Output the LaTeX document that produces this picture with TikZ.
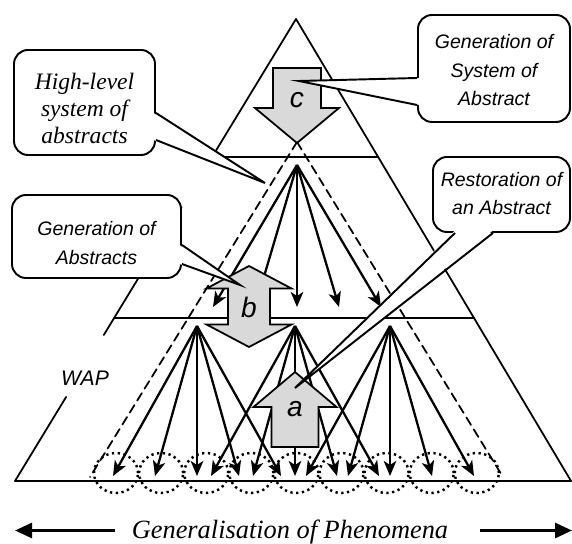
\documentclass[tikz,border=0pt]{standalone}
\usepackage{fontspec}
\setmainfont{Liberation Serif}
\setsansfont{Liberation Sans}
\usepackage{tkz-euclide}
\usetikzlibrary{arrows.meta,calc}
\definecolor{ArrowClr}{rgb}{0.85,0.85,0.85}
\tikzset{
  fan/.style={line width=1.3pt,-{Stealth[length=0.30cm,width=0.25cm,inset=0.08cm]}},
  bigarrow/.style={fill=ArrowClr,draw=black,line width=1pt},
  letter/.style={font=\sffamily\itshape\fontsize{16}{19}\selectfont,inner sep=0pt},
  bubble/.style={draw,fill=white,line width=1.1pt,rounded corners=0.28cm,inner sep=0pt},
  sanstext/.style={font=\sffamily\itshape\fontsize{11.1}{16.2}\selectfont,align=center},
  dotcirc/.style={line width=1.4pt,dash pattern=on 1.3pt off 2pt},
  genarrow/.style={line width=1.7pt,-{Triangle[length=0.34cm,width=0.30cm]}}
}

\begin{document}
\begin{tikzpicture}
\useasboundingbox (0,0) rectangle (11.44,10.86);
\tkzSetUpLine[line width=1pt,color=black]

\tkzDefPoints{5.92/10.48/T,0.30/1.24/L,11.42/1.24/R}
\tkzDefPoints{5.94/8.02/D,1.80/1.32/DL,10.06/1.32/DR}
\coordinate (U1) at ($(T)!.299!(L)$);
\coordinate (U2) at ($(T)!.299!(R)$);
\coordinate (L2) at ($(T)!.407!(L)$);
\coordinate (P1) at ($(T)!.647!(L)$);
\coordinate (P2) at ($(T)!.647!(R)$);
\coordinate (L3) at ($(T)!.684!(L)$);
\coordinate (L4) at ($(T)!.818!(L)$);

\tkzDrawSegments(T,U1 L2,L3 L4,L T,R L,R U1,U2 P1,P2)
\tkzDrawSegments[line width=1pt,dash pattern=on 5pt off 3pt](D,DL D,DR)

\tkzDefPoints{5.94/7.56/S0,3.94/4.34/S1,5.90/4.34/S2,7.80/4.34/S3}
\foreach \k in {1,...,5}{
  \path (S0) ++({0.84*(\k-3)},-2.84) coordinate (E0\k);
  \draw[fan] (S0) -- (E0\k);
}
\foreach \s in {1,2,3}
  \foreach \k in {1,...,5}{
    \path (S\s) ++({0.84*(\k-3)},-3.00) coordinate (E\s\k);
    \draw[fan] (S\s) -- (E\s\k);
  }

\foreach \k in {0,...,8}
  \draw[dotcirc] ({2.32+0.902*\k},1.40) ellipse (0.44 and 0.40);

\filldraw[bigarrow,shift={(5.94,8.00)}] (0,0) -- (0.84,0.70) -- (0.48,0.70) -- (0.48,1.50)
  -- (-0.48,1.50) -- (-0.48,0.70) -- (-0.84,0.70) -- cycle;
\filldraw[bigarrow,shift={(4.98,4.73)}] (0,0.81) -- (0.85,0.36) -- (0.42,0.36) -- (0.42,-0.36)
  -- (0.85,-0.36) -- (0,-0.81) -- (-0.85,-0.36) -- (-0.42,-0.36) -- (-0.42,0.36) -- (-0.85,0.36) -- cycle;
\filldraw[bigarrow,shift={(5.90,3.42)}] (0,0) -- (0.83,-0.70) -- (0.47,-0.70) -- (0.47,-1.50)
  -- (-0.47,-1.50) -- (-0.47,-0.70) -- (-0.83,-0.70) -- cycle;
\node[letter] (c) at (5.94,8.86) {c};
\node[letter] (b) at (4.98,4.72) {b};
\node[letter] (a) at (5.90,2.68) {a};

\node[bubble,minimum width=2.82cm,minimum height=2.10cm] (hl) at (1.69,8.81) {};
\node[font=\rmfamily\itshape\fontsize{13.4}{15.6}\selectfont,align=center] (hlt) at ($(hl)+(0,-0.12)$) {High-level\\system of\\abstracts};
\coordinate (hlT) at (5.30,7.20);
\fill[white] ($(hl.east)+(-0.05,-0.21)$) -- (hlT) -- ($(hl.east)+(-0.05,-0.75)$) -- cycle;
\draw[line width=1.1pt] ($(hl.east)+(0,-0.21)$) -- (hlT) -- ($(hl.east)+(0,-0.75)$);

\node[bubble,minimum width=3.38cm,minimum height=1.66cm] (ga) at (1.93,6.13) {};
\node[sanstext] (gat) at ($(ga)+(0,-0.13)$) {Generation of\\Abstracts};
\coordinate (gaT) at (4.80,5.16);
\fill[white] ($(ga.east)+(-0.05,-0.17)$) -- (gaT) -- ($(ga.east)+(-0.05,-0.55)$) -- cycle;
\draw[line width=1.1pt] ($(ga.east)+(0,-0.17)$) -- (gaT) -- ($(ga.east)+(0,-0.55)$);

\node[bubble,minimum width=3.04cm,minimum height=2.14cm] (gs) at (9.88,9.49) {};
\node[sanstext] (gst) at ($(gs)+(0,-0.04)$) {Generation of\\System of\\Abstract};
\coordinate (gsT) at (5.98,9.24);
\fill[white] ($(gs.west)+(0.05,-0.19)$) -- (gsT) -- ($(gs.west)+(0.05,-0.73)$) -- cycle;
\draw[line width=1.1pt] ($(gs.west)+(0,-0.19)$) -- (gsT) -- ($(gs.west)+(0,-0.73)$);

\node[bubble,minimum width=2.74cm,minimum height=1.50cm] (ra) at (10.03,6.97) {};
\node[sanstext] (rat) at ($(ra)+(0,0.02)$) {Restoration of\\an Abstract};
\coordinate (raT) at (5.90,3.10);
\fill[white] ($(ra.south)+(-0.93,0.05)$) -- (raT) -- ($(ra.south)+(-0.17,0.05)$) -- cycle;
\draw[line width=1.1pt] ($(ra.south)+(-0.93,0)$) -- (raT) -- ($(ra.south)+(-0.17,0)$);

\node[font=\sffamily\itshape\fontsize{12}{14}\selectfont] (wap) at (1.70,3.30) {WAP};

\node[font=\rmfamily\itshape\fontsize{15}{18}\selectfont,anchor=base] (gp) at (5.80,0.10) {Generalisation of Phenomena};
\coordinate (gL) at (2.30,0.25);
\coordinate (gL0) at (0.30,0.25);
\coordinate (gR) at (9.60,0.25);
\coordinate (gR0) at (11.44,0.25);
\draw[genarrow] (gL) -- (gL0);
\draw[genarrow] (gR) -- (gR0);

\end{tikzpicture}
\end{document}
